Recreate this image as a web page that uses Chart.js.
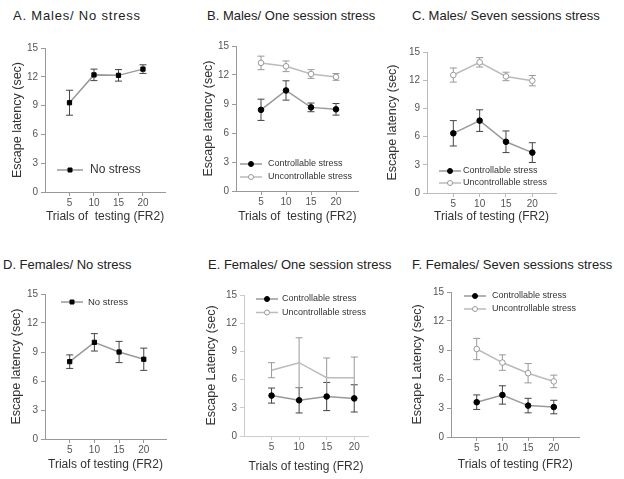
<!DOCTYPE html>
<html>
<head>
<meta charset="utf-8">
<script src="https://cdn.jsdelivr.net/npm/chart.js@4.4.1/dist/chart.umd.min.js"></script>
<style>
  body { margin: 0; background: #fff; width: 624px; height: 479px; position: relative; overflow: hidden;
         font-family: "Liberation Sans", Arial, sans-serif; }
  .panel-title { position: absolute; font-size: 13px; line-height: 16px; color: #222; white-space: pre; }
  canvas { position: absolute; }
</style>
</head>
<body>
<div class="panel-title" style="left:13px;top:8px;letter-spacing:0.8px">A. Males/ No stress</div>
<div class="panel-title" style="left:207px;top:8px">B. Males/ One session stress</div>
<div class="panel-title" style="left:412px;top:8px">C. Males/ Seven sessions stress</div>
<div class="panel-title" style="left:3px;top:257px">D. Females/ No stress</div>
<div class="panel-title" style="left:208px;top:257px">E. Females/ One session stress</div>
<div class="panel-title" style="left:412px;top:257px">F. Females/ Seven sessions stress</div>

<canvas id="chartA"></canvas>
<canvas id="chartB"></canvas>
<canvas id="chartC"></canvas>
<canvas id="chartD"></canvas>
<canvas id="chartE"></canvas>
<canvas id="chartF"></canvas>

<script>
// Shared axes
const trials = [5, 10, 15, 20];
const yTicks = [0, 3, 6, 9, 12, 15];

// Males (means and SEM)
const maleNoStress = [9.3, 12.2, 12.15, 12.8];
const maleNoStressErr = [1.3, 0.6, 0.6, 0.45];
const maleOneCtrl = [8.4, 10.4, 8.65, 8.45];
const maleOneCtrlErr = [1.1, 1.0, 0.45, 0.6];
const maleOneUnctrl = [13.25, 12.9, 12.1, 11.8];
const maleOneUnctrlErr = [0.7, 0.55, 0.45, 0.35];
const maleSevenCtrl = [6.35, 7.7, 5.45, 4.3];
const maleSevenCtrlErr = [1.35, 1.15, 1.15, 1.05];
const maleSevenUnctrl = [12.55, 13.9, 12.4, 11.95];
const maleSevenUnctrlErr = [0.75, 0.5, 0.45, 0.55];

// Females
const femaleNoStress = [8.0, 10.0, 9.0, 8.25];
const femaleNoStressErr = [0.7, 0.9, 1.1, 1.15];
const femaleOneCtrl = [4.3, 3.8, 4.2, 4.0];
const femaleOneCtrlErr = [0.8, 1.35, 1.5, 1.45];
const femaleOneUnctrl = [7.0, 7.8, 6.2, 6.2];
const femaleOneUnctrlErr = [0.8, 2.65, 2.1, 2.2];
const femaleSevenCtrl = [3.6, 4.35, 3.25, 3.1];
const femaleSevenCtrlErr = [0.75, 0.95, 0.75, 0.7];
const femaleSevenUnctrl = [9.1, 7.7, 6.6, 5.75];
const femaleSevenUnctrlErr = [1.1, 0.8, 1.0, 0.65];

Chart.defaults.font.family = '"Liberation Sans", Arial, sans-serif';

// Look of each kind of series (legend size is the marker half-width there)
const styles = {
    none:   { line: '#999', point: 'rect',   radius: 3,   legendSize: 2,   fill: '#000', border: '#000', err: '#444' },
    ctrl:   { line: '#999', point: 'circle', radius: 2.8, legendSize: 2.5, fill: '#000', border: '#000', err: '#444' },
    unctrl: { line: '#bbb', point: 'circle', radius: 2.8, legendSize: 2.5, fill: '#fff', border: '#999', err: '#999' }
};

// Panel layout, in page pixels
const panels = [
    {
        id: 'chartA', box: { left: 0, top: 28, width: 205, height: 207 },
        area: { left: 45, top: 48, right: 165, bottom: 192 }, xMax: 24.5,
        yTitle: 'Escape latency (sec)', yTitleX: 18, xTitle: 'Trials of  testing (FR2)', xTitleY: 217,
        axisColor: '#999',
        legend: { x: 70, ys: [170], half: 13, textX: 90, size: 12 },
        series: [{ label: 'No stress', kind: 'none', values: maleNoStress, err: maleNoStressErr }]
    },
    {
        id: 'chartB', box: { left: 198, top: 28, width: 212, height: 207 },
        area: { left: 236, top: 46, right: 358.5, bottom: 191 }, xMax: 24.5,
        yTitle: 'Escape latency (sec)', yTitleX: 209, xTitle: 'Trials of  testing (FR2)', xTitleY: 217,
        axisColor: '#999',
        legend: { x: 251, ys: [164, 177], half: 11, textX: 268, size: 9 },
        series: [
            { label: 'Controllable stress', kind: 'ctrl', values: maleOneCtrl, err: maleOneCtrlErr },
            { label: 'Uncontrollable stress', kind: 'unctrl', values: maleOneUnctrl, err: maleOneUnctrlErr }
        ]
    },
    {
        id: 'chartC', box: { left: 385, top: 28, width: 239, height: 207 },
        area: { left: 427, top: 52, right: 556, bottom: 193 }, xMax: 24.5,
        yTitle: 'Escape latency (sec)', yTitleX: 393, xTitle: 'Trials of testing (FR2)', xTitleY: 217,
        axisColor: '#bbb',
        legend: { x: 450, ys: [171, 183], half: 11, textX: 463, size: 9 },
        series: [
            { label: 'Controllable stress', kind: 'ctrl', values: maleSevenCtrl, err: maleSevenCtrlErr },
            { label: 'Uncontrollable stress', kind: 'unctrl', values: maleSevenUnctrl, err: maleSevenUnctrlErr }
        ]
    },
    {
        id: 'chartD', box: { left: 0, top: 275, width: 205, height: 200 },
        area: { left: 45, top: 294, right: 166, bottom: 439 }, xMax: 24.5,
        yTitle: 'Escape latency (sec)', yTitleX: 17, xTitle: 'Trials of testing (FR2)', xTitleY: 465,
        axisColor: '#999',
        legend: { x: 72, ys: [302], half: 11, textX: 88, size: 9.5 },
        series: [{ label: 'No stress', kind: 'none', values: femaleNoStress, err: femaleNoStressErr }]
    },
    {
        id: 'chartE', box: { left: 198, top: 275, width: 212, height: 200 },
        area: { left: 244, top: 295, right: 368, bottom: 436 }, xMax: 22.5,
        yTitle: 'Escape Latency (sec)', yTitleX: 212, xTitle: 'Trials of testing (FR2)', xTitleY: 466.5,
        axisColor: '#ccc',
        legend: { x: 267, ys: [299, 312.5], half: 11, textX: 282, size: 9 },
        series: [
            { label: 'Controllable stress', kind: 'ctrl', values: femaleOneCtrl, err: femaleOneCtrlErr },
            { label: 'Uncontrollable stress', kind: 'unctrl', values: femaleOneUnctrl, err: femaleOneUnctrlErr, radius: 0 }
        ]
    },
    {
        id: 'chartF', box: { left: 395, top: 275, width: 229, height: 200 },
        area: { left: 451, top: 292, right: 579.5, bottom: 437 }, xMax: 25,
        yTitle: 'Escape Latency (sec)', yTitleX: 418, xTitle: 'Trials of testing (FR2)', xTitleY: 465,
        axisColor: '#999',
        legend: { x: 475, ys: [296, 309], half: 11, textX: 492, size: 9 },
        series: [
            { label: 'Controllable stress', kind: 'ctrl', values: femaleSevenCtrl, err: femaleSevenCtrlErr },
            { label: 'Uncontrollable stress', kind: 'unctrl', values: femaleSevenUnctrl, err: femaleSevenUnctrlErr }
        ]
    }
];

// Vertical SEM bars with caps, drawn under the lines and markers
const errorBarPlugin = {
    id: 'errorBars',
    beforeDatasetsDraw(chart) {
        const ctx = chart.ctx;
        const xs = chart.scales.x;
        const ys = chart.scales.y;
        chart.data.datasets.forEach(ds => {
            if (!ds.err) return;
            ctx.save();
            ctx.strokeStyle = ds.errColor;
            ctx.lineWidth = 1;
            ds.data.forEach((pt, i) => {
                const px = xs.getPixelForValue(pt.x);
                const top = ys.getPixelForValue(pt.y + ds.err[i]);
                const bot = ys.getPixelForValue(pt.y - ds.err[i]);
                ctx.beginPath();
                ctx.moveTo(px, top); ctx.lineTo(px, bot);
                ctx.moveTo(px - 3.5, top); ctx.lineTo(px + 3.5, top);
                ctx.moveTo(px - 3.5, bot); ctx.lineTo(px + 3.5, bot);
                ctx.stroke();
            });
            ctx.restore();
        });
    }
};

// Line-marker-line legend placed inside the plot
function legendPlugin(p) {
    return {
        id: 'panelLegend',
        afterDraw(chart) {
            const ctx = chart.ctx;
            const lg = p.legend;
            ctx.save();
            chart.data.datasets.forEach((ds, i) => {
                const st = styles[p.series[i].kind];
                const x = lg.x - p.box.left;
                const y = lg.ys[i] - p.box.top;
                const r = st.legendSize;
                ctx.strokeStyle = st.line;
                ctx.lineWidth = 1.5;
                ctx.beginPath();
                ctx.moveTo(x - lg.half, y); ctx.lineTo(x + lg.half, y);
                ctx.stroke();
                ctx.fillStyle = st.fill;
                ctx.strokeStyle = st.border;
                ctx.lineWidth = 1;
                ctx.beginPath();
                if (st.point === 'rect') {
                    ctx.rect(x - r, y - r, r * 2, r * 2);
                } else {
                    ctx.arc(x, y, r, 0, Math.PI * 2);
                }
                ctx.fill();
                ctx.stroke();
                ctx.fillStyle = '#333';
                ctx.font = lg.size + 'px "Liberation Sans", Arial, sans-serif';
                ctx.textBaseline = 'middle';
                ctx.textAlign = 'left';
                ctx.fillText(ds.label, lg.textX - p.box.left, y);
            });
            ctx.restore();
        }
    };
}

function buildChart(p) {
    const cv = document.getElementById(p.id);
    cv.width = p.box.width;
    cv.height = p.box.height;
    cv.style.left = p.box.left + 'px';
    cv.style.top = p.box.top + 'px';

    const yWidth = p.area.left - p.box.left;
    const xHeight = p.box.top + p.box.height - p.area.bottom;
    const yTitleSize = 12.5;
    const xTitleSize = 12;

    const datasets = p.series.map(s => {
        const st = styles[s.kind];
        return {
            label: s.label,
            data: trials.map((t, i) => ({ x: t, y: s.values[i] })),
            err: s.err,
            errColor: st.err,
            borderColor: st.line,
            borderWidth: 1.5,
            pointStyle: st.point,
            pointRadius: s.radius !== undefined ? s.radius : st.radius,
            pointBackgroundColor: st.fill,
            pointBorderColor: st.border,
            pointBorderWidth: 1,
            tension: 0
        };
    });

    const axisBase = {
        grid: { drawOnChartArea: false, color: p.axisColor, tickLength: 4 },
        border: { color: p.axisColor }
    };

    new Chart(cv, {
        type: 'line',
        data: { datasets },
        options: {
            responsive: false,
            animation: false,
            layout: {
                padding: {
                    left: 0,
                    top: p.area.top - p.box.top,
                    right: p.box.left + p.box.width - p.area.right,
                    bottom: 0
                }
            },
            plugins: { legend: { display: false }, tooltip: { enabled: false } },
            scales: {
                x: Object.assign({}, axisBase, {
                    type: 'linear',
                    min: 0,
                    max: p.xMax,
                    afterBuildTicks: s => { s.ticks = trials.map(v => ({ value: v })); },
                    afterFit: s => { s.height = xHeight; },
                    ticks: { font: { size: 10 }, color: '#555', padding: 1 },
                    title: {
                        display: true, text: p.xTitle, color: '#333', font: { size: xTitleSize },
                        padding: { top: 0, bottom: p.box.top + p.box.height - p.xTitleY - xTitleSize * 0.6 }
                    }
                }),
                y: Object.assign({}, axisBase, {
                    min: 0,
                    max: 15,
                    afterBuildTicks: s => { s.ticks = yTicks.map(v => ({ value: v })); },
                    afterFit: s => { s.width = yWidth; },
                    ticks: { font: { size: 10 }, color: '#555', padding: 3 },
                    title: {
                        display: true, text: p.yTitle, color: '#333', font: { size: yTitleSize },
                        padding: { top: p.yTitleX - p.box.left - yTitleSize * 0.6, bottom: 0 }
                    }
                })
            }
        },
        plugins: [errorBarPlugin, legendPlugin(p)]
    });
}

panels.forEach(buildChart);
</script>
</body>
</html>
